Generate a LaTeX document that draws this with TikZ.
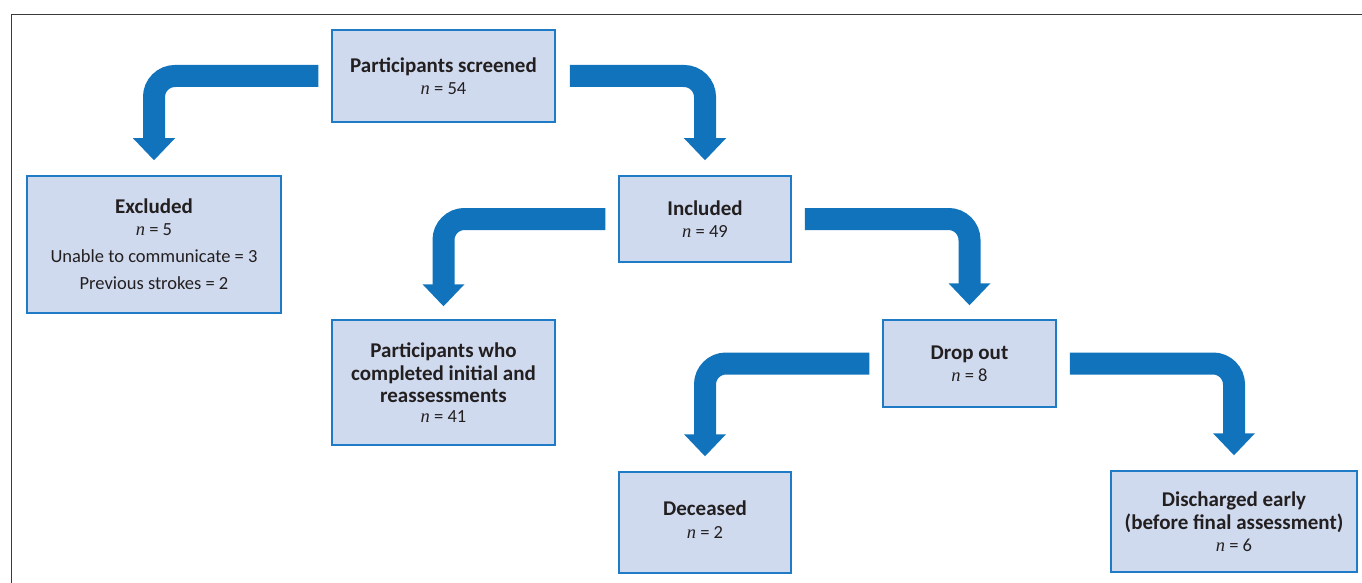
\documentclass[tikz,border=0pt]{standalone}
\usepackage{fontspec}
\setmainfont{Carlito}
\newfontfamily\serifn{Liberation Serif}
\usetikzlibrary{calc}
\definecolor{boxfill}{HTML}{CFDAEE}
\definecolor{boxline}{HTML}{1F7BC6}
\definecolor{arrowc}{HTML}{1173BC}
\definecolor{framec}{HTML}{3A3A3A}
\definecolor{txt}{HTML}{231F20}
\newcommand{\nn}{{\serifn\itshape n}}
\newcommand{\bt}[1]{{\fontsize{21}{23}\selectfont\bfseries #1}}
\begin{document}
\begin{tikzpicture}[x=1pt,y=-1pt,
  flowbox/.style={draw=boxline, fill=boxfill, line width=1.5pt, inner sep=0pt,
    align=center, text=txt, font=\fontsize{18.5}{22}\selectfont},
  band/.style={draw=arrowc, line width=22pt, rounded corners=21pt},
  head/.style={fill=arrowc},
  frameline/.style={draw=framec, line width=1.4pt}]
\useasboundingbox (0,0) rectangle (1362,583);
\draw[frameline] (1362,14.5) -- (11.5,14.5) -- (11.5,583);

\node[flowbox, minimum width=223pt, minimum height=92pt] (scr) at (443.5,76)
  {\bt{Participants screened}\\ \nn{} = 54};
\node[flowbox, minimum width=254pt, minimum height=137pt] (exc) at (154,244.5)
  {\bt{Excluded}\\ \nn{} = 5\\[5pt] Unable to communicate = 3\\[5pt] Previous strokes = 2};
\node[flowbox, minimum width=172pt, minimum height=86pt] (inc) at (705,219)
  {\bt{Included}\\ \nn{} = 49};
\node[flowbox, minimum width=223pt, minimum height=125pt] (comp) at (443.5,382.5)
  {\bt{Participants who}\\[1pt] \bt{completed initial and}\\ \bt{reassessments}\\[-2pt] \nn{} = 41};
\node[flowbox, minimum width=173pt, minimum height=87pt] (drop) at (969.5,363.5)
  {\bt{Drop out}\\ \nn{} = 8};
\node[flowbox, minimum width=172pt, minimum height=101pt] (dec) at (705,522.5)
  {\bt{Deceased}\\[1pt] \nn{} = 2\\[-16pt]\mbox{}};
\node[flowbox, minimum width=246pt, minimum height=101pt] (dis) at (1234,521.5)
  {\bt{Discharged early}\\[1pt] \bt{(before final assessment)}\\ \nn{} = 6};

% arrows
\draw[band] ([xshift=-13pt]scr.west) -| ([yshift=36pt]exc.north);
\fill[head] ([yshift=15pt]exc.north) -- ++(-21pt,22pt) -- ++(42pt,0pt) -- cycle;
\draw[band] ([xshift=14pt]scr.east) -| ([yshift=36pt]inc.north);
\fill[head] ([yshift=15pt]inc.north) -- ++(-21pt,22pt) -- ++(42pt,0pt) -- cycle;
\draw[band] ([xshift=-13pt]inc.west) -| ([yshift=34pt]comp.north);
\fill[head] ([yshift=13pt]comp.north) -- ++(-21pt,22pt) -- ++(42pt,0pt) -- cycle;
\draw[band] ([xshift=13pt]inc.east) -| ([yshift=35pt]drop.north);
\fill[head] ([yshift=14pt]drop.north) -- ++(-21pt,22pt) -- ++(42pt,0pt) -- cycle;
\draw[band] ([xshift=-13pt]drop.west) -| ([yshift=36pt]dec.north);
\fill[head] ([yshift=15pt]dec.north) -- ++(-21pt,22pt) -- ++(42pt,0pt) -- cycle;
\draw[band] ([xshift=13pt]drop.east) -| ([yshift=36pt]dis.north);
\fill[head] ([yshift=15pt]dis.north) -- ++(-21pt,22pt) -- ++(42pt,0pt) -- cycle;
\end{tikzpicture}
\end{document}
